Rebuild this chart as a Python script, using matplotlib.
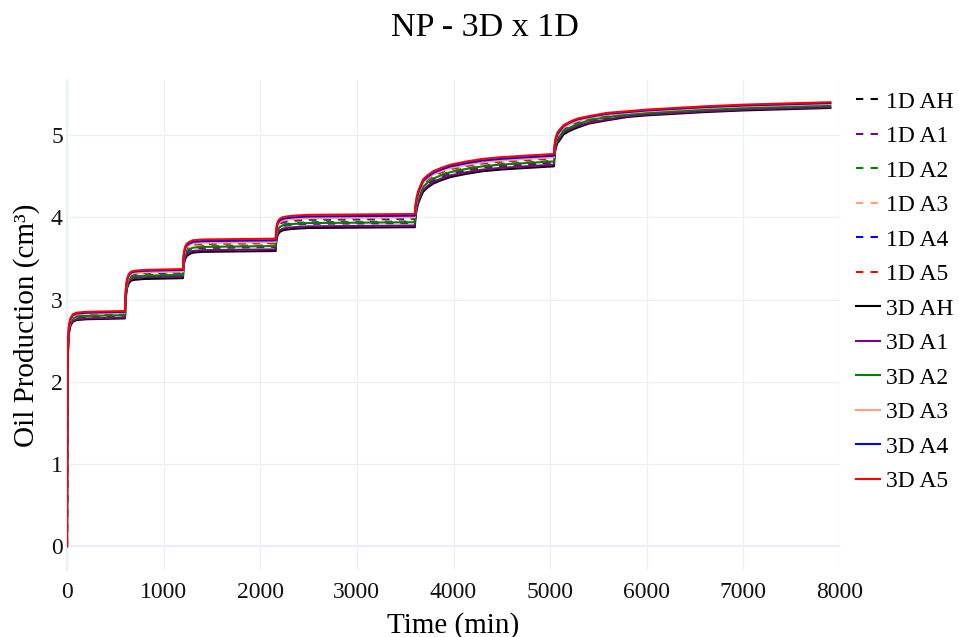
import matplotlib
matplotlib.use("Agg")
import matplotlib.pyplot as plt
import numpy as np

plt.rcParams['font.family'] = ['Liberation Serif', 'DejaVu Serif']

# time grid (min)
t = [0, 2, 5, 10, 20, 35, 60, 100, 200, 600,
     602, 606, 612, 622, 640, 665, 700, 800, 1200,
     1202, 1206, 1212, 1222, 1240, 1265, 1300, 1400, 2160,
     2162, 2166, 2172, 2182, 2200, 2230, 2270, 2350, 2500, 3600,
     3603, 3610, 3620, 3635, 3655, 3685, 3730, 3790, 3870, 3970, 4140, 4300, 4480, 4750, 5040,
     5043, 5050, 5060, 5075, 5100, 5140, 5200, 5280, 5400, 5590,
     5800, 6000, 6300, 6600, 7000, 7300, 7600, 7900]

# oil production, in units of 0.01 cm3
np_1d_ah = [0, 114, 194, 239, 262, 271, 276, 278, 279, 280,
            288, 300, 310, 318, 324, 327, 328, 329, 330,
            335, 343, 349, 354, 358, 360, 362, 363, 364,
            370, 376, 381, 385, 388, 390, 391, 392, 393, 394,
            400, 408, 415, 422, 428, 436, 441, 446, 450, 454, 458, 461, 463, 465, 467,
            476, 484, 490, 495, 499, 505, 509, 513, 517, 521,
            524, 526, 528, 530, 532, 533, 534, 535]
np_1d_a1 = [0, 114, 194, 239, 262, 271, 276, 278, 279, 280,
            287, 299, 309, 317, 323, 326, 327, 328, 329,
            335, 343, 349, 354, 358, 360, 362, 363, 364,
            369, 375, 380, 384, 387, 389, 390, 391, 392, 393,
            399, 407, 414, 421, 427, 435, 440, 445, 449, 453, 457, 460, 462, 464, 466,
            475, 483, 489, 494, 498, 504, 508, 512, 517, 521,
            524, 526, 528, 530, 532, 533, 534, 535]
np_1d_a2 = [0, 115, 195, 240, 263, 272, 277, 279, 280, 281,
            289, 301, 311, 319, 325, 328, 329, 330, 331,
            337, 345, 351, 356, 360, 362, 364, 365, 366,
            371, 377, 382, 386, 389, 391, 392, 393, 394, 395,
            402, 410, 417, 424, 430, 438, 443, 448, 452, 456, 460, 463, 465, 467, 469,
            477, 485, 491, 496, 500, 506, 510, 514, 518, 522,
            525, 527, 529, 531, 533, 534, 535, 536]
np_1d_a3 = [0, 116, 196, 241, 264, 273, 278, 280, 281, 282,
            291, 303, 313, 321, 327, 330, 331, 332, 333,
            339, 347, 353, 358, 362, 364, 366, 367, 368,
            374, 380, 385, 389, 392, 394, 395, 396, 397, 398,
            404, 412, 419, 426, 432, 440, 445, 450, 454, 458, 462, 465, 467, 469, 471,
            479, 487, 493, 498, 502, 508, 512, 516, 519, 523,
            526, 528, 530, 532, 534, 535, 536, 537]
np_1d_a4 = [0, 117, 197, 242, 265, 274, 279, 281, 282, 283,
            291, 303, 313, 321, 327, 330, 331, 332, 333,
            340, 348, 354, 359, 363, 365, 367, 368, 369,
            374, 380, 385, 389, 392, 394, 395, 396, 397, 398,
            405, 413, 420, 427, 433, 441, 446, 451, 455, 459, 463, 466, 468, 470, 472,
            479, 487, 493, 498, 502, 508, 512, 516, 520, 524,
            527, 529, 531, 533, 535, 536, 537, 538]
np_1d_a5 = [0, 117, 197, 242, 265, 274, 279, 281, 282, 283,
            292, 304, 314, 322, 328, 331, 332, 333, 334,
            340, 348, 354, 359, 363, 365, 367, 368, 369,
            375, 381, 386, 390, 393, 395, 396, 397, 398, 399,
            405, 413, 420, 427, 433, 441, 446, 451, 455, 459, 463, 466, 468, 470, 472,
            480, 488, 494, 499, 503, 509, 513, 517, 520, 524,
            527, 529, 531, 533, 535, 536, 537, 538]

np_3d_ah = [0, 111, 191, 236, 259, 268, 273, 275, 276, 277,
            284, 296, 306, 314, 320, 323, 324, 325, 326,
            330, 338, 344, 349, 353, 355, 357, 358, 359,
            364, 370, 375, 379, 382, 384, 385, 386, 387, 388,
            395, 403, 410, 417, 423, 431, 436, 441, 445, 449, 453, 456, 458, 460, 462,
            471, 479, 485, 490, 494, 501, 505, 509, 514, 518,
            522, 524, 526, 528, 530, 531, 532, 533]
np_3d_a1 = [0, 112, 192, 237, 260, 269, 274, 276, 277, 278,
            286, 298, 308, 316, 322, 325, 326, 327, 328,
            332, 340, 346, 351, 355, 357, 359, 360, 361,
            366, 372, 377, 381, 384, 386, 387, 388, 389, 390,
            397, 405, 412, 419, 425, 433, 438, 443, 447, 451, 455, 458, 460, 462, 464,
            473, 481, 487, 492, 496, 503, 507, 511, 515, 519,
            523, 525, 527, 529, 531, 532, 533, 534]
np_3d_a2 = [0, 115, 195, 240, 263, 272, 277, 279, 280, 281,
            288, 300, 310, 318, 324, 327, 328, 329, 330,
            336, 344, 350, 355, 359, 361, 363, 364, 365,
            370, 376, 381, 385, 388, 390, 391, 392, 393, 394,
            401, 409, 416, 423, 429, 437, 442, 447, 451, 455, 459, 462, 464, 466, 468,
            476, 484, 490, 495, 499, 505, 509, 513, 518, 522,
            525, 527, 529, 531, 533, 534, 535, 536]
np_3d_a3 = [0, 118, 198, 243, 266, 275, 280, 282, 283, 284,
            292, 304, 314, 322, 328, 331, 332, 333, 334,
            341, 349, 355, 360, 364, 366, 368, 369, 370,
            376, 382, 387, 391, 394, 396, 397, 398, 399, 400,
            406, 414, 421, 428, 434, 442, 447, 452, 456, 460, 464, 467, 469, 471, 473,
            481, 489, 495, 500, 504, 509, 513, 517, 521, 525,
            527, 529, 531, 533, 535, 536, 537, 538]
np_3d_a4 = [0, 119, 199, 244, 267, 276, 281, 283, 284, 285,
            294, 306, 316, 324, 330, 333, 334, 335, 336,
            343, 351, 357, 362, 366, 368, 370, 371, 372,
            378, 384, 389, 393, 396, 398, 399, 400, 401, 402,
            408, 416, 423, 430, 436, 444, 449, 454, 458, 462, 466, 469, 471, 473, 475,
            482, 490, 496, 501, 505, 511, 515, 519, 522, 526,
            528, 530, 532, 534, 536, 537, 538, 539]
np_3d_a5 = [0, 120, 200, 245, 268, 277, 282, 284, 285, 286,
            295, 307, 317, 325, 331, 334, 335, 336, 337,
            345, 353, 359, 364, 368, 370, 372, 373, 374,
            380, 386, 391, 395, 398, 400, 401, 402, 403, 404,
            410, 418, 425, 432, 438, 446, 451, 456, 460, 464, 468, 471, 473, 475, 477,
            484, 492, 498, 503, 507, 512, 516, 520, 523, 527,
            529, 531, 533, 535, 537, 538, 539, 540]

names = ['1D AH', '1D A1', '1D A2', '1D A3', '1D A4', '1D A5',
         '3D AH', '3D A1', '3D A2', '3D A3', '3D A4', '3D A5']
series = [np_1d_ah, np_1d_a1, np_1d_a2, np_1d_a3, np_1d_a4, np_1d_a5,
          np_3d_ah, np_3d_a1, np_3d_a2, np_3d_a3, np_3d_a4, np_3d_a5]
colors = ['black', 'purple', 'green', 'lightsalmon', 'blue', 'red'] * 2
x_ticks = [0, 1000, 2000, 3000, 4000, 5000, 6000, 7000, 8000]
y_ticks = [0, 1, 2, 3, 4, 5]

W, H = 959, 637
fig = plt.figure(figsize=(W / 100, H / 100), dpi=100)
ax = fig.add_axes([67 / W, 67 / H, 773 / W, 490 / H])

grid_c = '#EBF0F8'
lw = 1.5
for i, (nm, y) in enumerate(zip(names, series)):
    yv = np.asarray(y, dtype=float) / 100.0
    if nm.startswith('1D'):
        ax.plot(t, yv, color=colors[i], lw=lw, linestyle=(0, (3.5, 3.5)), label=nm, zorder=3 + i)
    else:
        ax.plot(t, yv, color=colors[i], lw=lw, linestyle='-', label=nm, zorder=3 + i)

ax.set_xlim(0, 8000)
ax.set_ylim(-0.29, 5.67)
ax.set_xticks(x_ticks)
ax.set_yticks(y_ticks)
ax.grid(True, color=grid_c, lw=0.9, zorder=0)
ax.axhline(0, color=grid_c, lw=1.6, zorder=1)
ax.axvline(0, color=grid_c, lw=1.6, zorder=1, clip_on=False)
for s in ax.spines.values():
    s.set_visible(False)
ax.tick_params(length=0, labelsize=17, colors='#111111')
ax.tick_params(axis='x', pad=9)
ax.tick_params(axis='y', pad=3)

ax.set_xlabel('Time (min)', fontsize=21, labelpad=6)
ax.set_ylabel('Oil Production (cm³)', fontsize=21, labelpad=8)

fig.text(0.506, 1 - 28 / H, 'NP - 3D x 1D', ha='center', va='center', fontsize=24.5)

leg = ax.legend(loc='upper left', bbox_to_anchor=(856 / W, 1 - 91 / H),
                bbox_transform=fig.transFigure, frameon=False, fontsize=17,
                handlelength=1.0, handletextpad=0.25, labelspacing=0.55,
                borderpad=0, borderaxespad=0)

fig.savefig('out.png', dpi=100, facecolor='white')
